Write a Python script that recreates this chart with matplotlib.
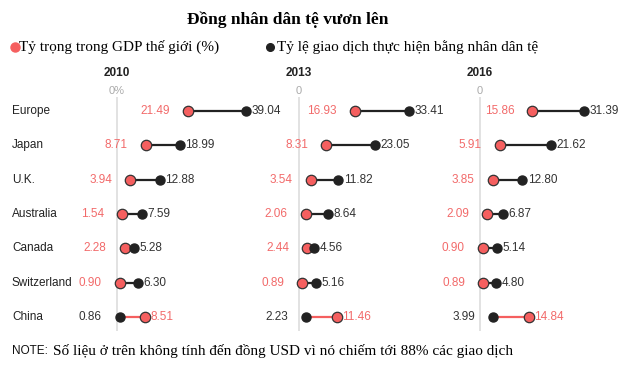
import numpy as np
import matplotlib
matplotlib.use('Agg')
import matplotlib.pyplot as plt
import matplotlib.transforms as mtransforms
from matplotlib.lines import Line2D

countries = ['Europe', 'Japan', 'U.K.', 'Australia', 'Canada', 'Switzerland', 'China']
years = ['2010', '2013', '2016']
zero_labels = ['0%', '0', '0']

# ty trong GDP the gioi (do)
gdp_2010 = [21.49, 8.71, 3.94, 1.54, 2.28, 0.90, 8.51]
gdp_2013 = [16.93, 8.31, 3.54, 2.06, 2.44, 0.89, 11.46]
gdp_2016 = [15.86, 5.91, 3.85, 2.09, 0.90, 0.89, 14.84]

# ty le giao dich bang nhan dan te (den)
rmb_2010 = [39.04, 18.99, 12.88, 7.59, 5.28, 6.30, 0.86]
rmb_2013 = [33.41, 23.05, 11.82, 8.64, 4.56, 5.16, 2.23]
rmb_2016 = [31.39, 21.62, 12.80, 6.87, 5.14, 4.80, 3.99]

gdp_all = [gdp_2010, gdp_2013, gdp_2016]
rmb_all = [rmb_2010, rmb_2013, rmb_2016]

RED = '#f55f5f'
RED_TXT = '#f26a6a'
BLACK = '#222222'
GRAY = '#aaaaaa'

W, H = 640, 384
fig = plt.figure(figsize=(6.4, 3.84), dpi=100)

px_per_unit = 3.3
zeros_px = [117, 299, 480]
left_pad = 60
ax_w = 180
top_px, bot_px = 97, 331

sans = 'Liberation Sans'
serif = 'Liberation Serif'

axes = []
for i in range(3):
    L = zeros_px[i] - left_pad
    ax = fig.add_axes([L / W, 1 - bot_px / H, ax_w / W, (bot_px - top_px) / H])
    ax.set_xlim(-left_pad / px_per_unit, (ax_w - left_pad) / px_per_unit)
    ax.set_ylim(len(countries) - 0.6, -0.4)
    ax.axis('off')
    ax.axvline(0, color='#dddddd', lw=1.2, zorder=0)
    axes.append(ax)

    g = gdp_all[i]
    r = rmb_all[i]
    for j in range(len(countries)):
        lc = BLACK if r[j] >= g[j] else RED
        ax.plot([g[j], r[j]], [j, j], color=lc, lw=1.6, zorder=1, clip_on=False)
        ax.plot(r[j], j, 'o', ms=6.5, color=BLACK, mec=BLACK, zorder=3, clip_on=False)
        ax.plot(g[j], j, 'o', ms=7.5, color=RED, mec='#333333', mew=0.9, zorder=2,
                clip_on=False)
        lo, hi = min(g[j], r[j]), max(g[j], r[j])
        lo_col = RED_TXT if g[j] <= r[j] else '#333333'
        hi_col = '#333333' if g[j] <= r[j] else RED_TXT
        ax.annotate('%.2f' % lo, (lo, j), xytext=(-13, 0), textcoords='offset points',
                    ha='right', va='center', fontsize=8.5, color=lo_col, family=sans,
                    annotation_clip=False)
        ax.annotate('%.2f' % hi, (hi, j), xytext=(4, 0), textcoords='offset points',
                    ha='left', va='center', fontsize=8.5, color=hi_col, family=sans,
                    annotation_clip=False)

    fig.text(zeros_px[i] / W, 1 - 73 / H, years[i], ha='center', va='center',
             fontsize=8.5, fontweight='bold', color='#222222', family=sans)
    fig.text(zeros_px[i] / W, 1 - 91 / H, zero_labels[i], ha='center', va='center',
             fontsize=8, color=GRAY, family=sans)

trans = mtransforms.blended_transform_factory(fig.transFigure, axes[0].transData)
for j, c in enumerate(countries):
    axes[0].text(12 / W, j, c, transform=trans, ha='left', va='center',
                 fontsize=8.5, color='#222222', family=sans)

fig.text(288 / W, 1 - 20 / H, 'Đồng nhân dân tệ vươn lên', ha='center', va='center',
         fontsize=12.5, fontweight='bold', family=serif)

# chu thich
fig.add_artist(Line2D([15 / W], [1 - 47 / H], marker='o', ms=6.5, color=RED,
                      transform=fig.transFigure))
fig.text(19 / W, 1 - 47 / H, 'Tỷ trọng trong GDP thế giới (%)', ha='left', va='center',
         fontsize=11, family=serif)
fig.add_artist(Line2D([270 / W], [1 - 47 / H], marker='o', ms=5.5, color=BLACK,
                      transform=fig.transFigure))
fig.text(277 / W, 1 - 47 / H, 'Tỷ lệ giao dịch thực hiện bằng nhân dân tệ', ha='left',
         va='center', fontsize=11, family=serif)

fig.text(12 / W, 1 - 351 / H, 'NOTE:', ha='left', va='center', fontsize=8.5,
         family=sans, color='#111111')
fig.text(53 / W, 1 - 351 / H, 'Số liệu ở trên không tính đến đồng USD vì nó chiếm tới 88% các giao dịch',
         ha='left', va='center', fontsize=11, family=serif)

fig.savefig('out.png', dpi=100)
